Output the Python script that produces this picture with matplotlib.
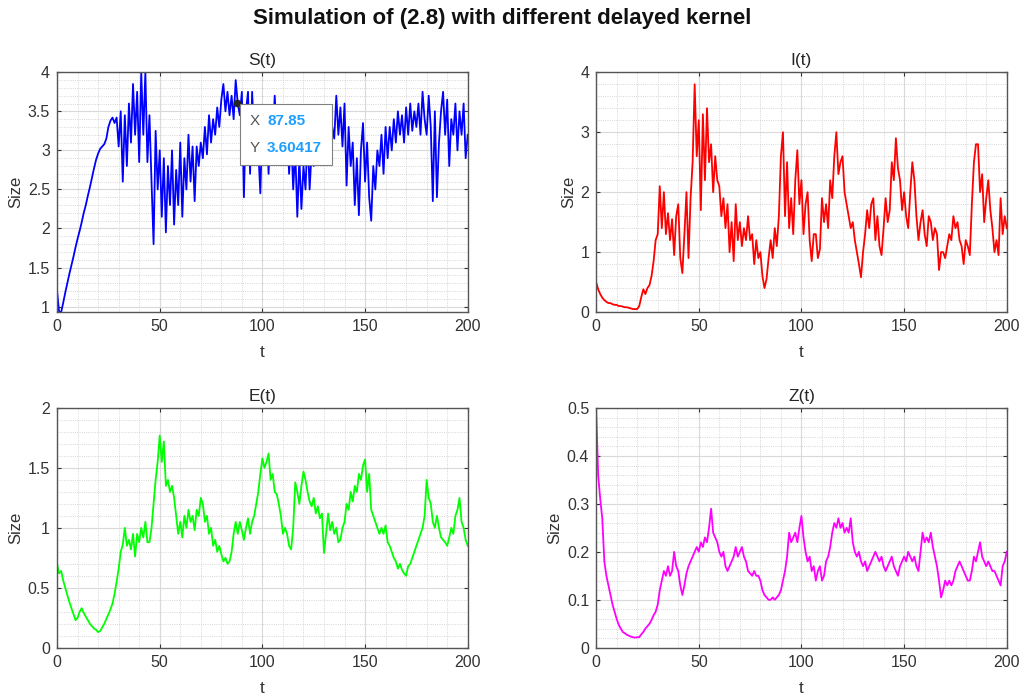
import numpy as np
import matplotlib
matplotlib.use("Agg")
import matplotlib.pyplot as plt
from matplotlib.ticker import MultipleLocator, AutoMinorLocator, FormatStrFormatter
from matplotlib.offsetbox import TextArea, HPacker, VPacker, AnnotationBbox

plt.rcParams['font.family'] = ['Liberation Sans', 'DejaVu Sans']

# time grid (t = 0 .. 200)
t = np.arange(0, 201)

S_vals = [
    1.2, 0.93, 0.93, 1.05, 1.18, 1.3, 1.42, 1.53, 1.64, 1.76,
    1.87, 1.97, 2.08, 2.2, 2.3, 2.42, 2.53, 2.65, 2.77, 2.88,
    2.96, 3.02, 3.05, 3.08, 3.15, 3.3, 3.38, 3.42, 3.35, 3.42,
    3.05, 3.5, 2.6, 3.45, 2.8, 3.6, 3.1, 3.85, 3.2, 3.75,
    2.85, 4.0, 3.2, 4.0, 2.85, 3.45, 2.6, 1.8, 3.25, 2.5,
    3.0, 2.15, 2.9, 1.95, 2.8, 2.3, 3.0, 2.05, 2.75, 2.3,
    3.1, 2.15, 2.9, 2.5, 3.2, 2.6, 3.05, 2.35, 3.05, 2.8,
    3.1, 2.9, 3.3, 2.95, 3.45, 3.1, 3.4, 3.2, 3.55, 3.3,
    3.65, 3.85, 3.5, 3.75, 3.45, 3.7, 3.4, 3.9, 3.6, 3.45,
    3.75, 2.4, 3.5, 3.75, 2.7, 3.75, 3.1, 3.5, 3.0, 2.45,
    3.4, 3.0, 3.55, 2.7, 3.5, 3.1, 3.7, 3.2, 3.5, 3.0,
    3.3, 2.9, 3.4, 2.7, 3.2, 2.5, 3.0, 2.15, 2.9, 2.25,
    2.8, 2.5, 3.2, 2.5, 3.0, 2.8, 3.3, 3.0, 3.25, 2.9,
    3.2, 3.0, 3.35, 3.1, 3.3, 3.15, 3.7, 3.2, 3.55, 3.05,
    3.6, 2.55, 3.3, 2.8, 3.1, 2.3, 2.9, 2.17, 3.0, 3.35,
    2.6, 3.1, 2.4, 2.1, 2.8, 2.5, 3.0, 2.8, 3.2, 2.7,
    3.3, 2.9, 3.3, 3.0, 3.4, 3.1, 3.5, 3.2, 3.45, 3.1,
    3.55, 3.2, 3.6, 3.25, 3.5, 3.3, 3.6, 3.2, 3.75, 3.4,
    3.2, 3.7, 3.3, 2.35, 3.5, 2.4, 3.1, 3.5, 3.75, 3.2,
    3.65, 2.8, 3.4, 3.2, 3.6, 3.0, 3.5, 3.2, 3.6, 2.9,
    3.2,
]

I_vals = [
    0.5, 0.38, 0.3, 0.24, 0.2, 0.17, 0.15, 0.15, 0.13, 0.12,
    0.12, 0.1, 0.1, 0.09, 0.08, 0.08, 0.07, 0.06, 0.05, 0.05,
    0.05, 0.1, 0.25, 0.38, 0.3, 0.4, 0.45, 0.6, 0.85, 1.2,
    1.3, 2.1, 1.4, 2.0, 1.3, 1.65, 1.2, 1.55, 0.95, 1.6,
    1.8, 0.9, 0.65, 1.3, 2.0, 0.9, 1.9, 2.5, 3.8, 2.6,
    3.2, 1.7, 3.3, 2.2, 3.4, 2.5, 2.8, 2.0, 2.6, 2.2,
    2.1, 1.6, 1.9, 1.4, 1.8, 1.0, 1.5, 0.85, 1.8, 1.2,
    1.5, 1.1, 1.4, 1.2, 1.6, 1.2, 1.3, 0.8, 1.2, 0.9,
    1.0, 0.6, 0.4, 0.55, 0.9, 1.2, 0.9, 1.4, 1.1, 1.6,
    2.6, 3.0, 1.6, 2.5, 1.4, 1.9, 1.3, 2.2, 2.7, 1.8,
    2.2, 1.3, 1.8, 2.0, 1.2, 0.85, 1.3, 1.3, 0.9, 1.05,
    1.9, 1.5, 1.8, 1.4, 2.2, 1.9, 2.6, 3.0, 2.3, 2.5,
    2.6, 2.0, 1.8, 1.6, 1.4, 1.5, 1.2, 1.0, 0.8, 0.58,
    1.0, 1.3, 1.7, 1.4, 1.8, 1.9, 1.2, 1.6, 1.1, 0.95,
    1.4, 1.9, 1.5, 1.7, 2.5, 2.2, 2.9, 2.4, 2.2, 1.7,
    2.0, 1.6, 1.4, 2.0, 2.5, 2.2, 1.6, 1.2, 1.5, 1.7,
    1.3, 1.1, 1.6, 1.5, 1.2, 1.4, 1.3, 0.7, 1.0, 1.0,
    0.9, 1.1, 1.3, 1.2, 1.6, 1.4, 1.5, 1.2, 1.1, 0.8,
    1.2, 1.1, 0.95, 1.8, 2.5, 2.8, 2.8, 2.0, 2.3, 1.5,
    1.9, 2.2, 1.7, 1.4, 1.0, 1.2, 0.95, 1.9, 1.3, 1.6,
    1.4,
]

E_vals = [
    0.7, 0.62, 0.64, 0.56, 0.5, 0.44, 0.38, 0.33, 0.28, 0.23,
    0.25, 0.3, 0.33, 0.29, 0.26, 0.23, 0.2, 0.18, 0.16, 0.15,
    0.13, 0.14, 0.17, 0.2, 0.24, 0.28, 0.32, 0.37, 0.45, 0.55,
    0.66, 0.8, 0.86, 1.0, 0.85, 0.9, 0.82, 0.95, 0.76, 0.95,
    0.88, 1.0, 0.92, 1.05, 0.88, 0.88, 1.0, 1.2, 1.4, 1.55,
    1.77, 1.55, 1.72, 1.35, 1.4, 1.3, 1.35, 1.25, 1.1, 0.95,
    1.05, 0.92, 1.1, 1.0, 1.15, 1.05, 1.1, 0.98, 1.15, 1.1,
    1.25, 1.2, 1.05, 1.1, 0.95, 1.0, 0.85, 0.9, 0.8, 0.85,
    0.78, 0.72, 0.75, 0.7, 0.72, 0.8, 0.95, 1.05, 0.95, 1.05,
    0.98, 0.9, 1.0, 1.08, 0.95, 1.05, 1.1, 1.2, 1.3, 1.45,
    1.58, 1.5, 1.55, 1.62, 1.4, 1.45, 1.3, 1.28, 1.2, 1.1,
    0.95, 1.0, 0.95, 0.85, 0.82, 1.0, 1.38, 1.3, 1.2, 1.35,
    1.47, 1.4, 1.3, 1.22, 1.18, 1.25, 1.12, 1.18, 1.08, 1.12,
    0.79, 0.95, 1.12, 0.98, 1.05, 0.95, 1.0, 0.88, 0.9, 1.0,
    1.05, 1.2, 1.15, 1.3, 1.22, 1.35, 1.3, 1.45, 1.4, 1.52,
    1.57, 1.3, 1.45, 1.15, 1.1, 1.05, 1.0, 0.95, 1.0, 0.95,
    1.02, 0.88, 0.85, 0.8, 0.75, 0.72, 0.66, 0.7, 0.65, 0.62,
    0.6, 0.68, 0.7, 0.75, 0.8, 0.85, 0.9, 0.95, 1.0, 1.1,
    1.4, 1.25, 1.2, 1.05, 1.0, 1.1, 1.0, 0.92, 0.9, 0.88,
    0.85, 0.92, 1.0, 0.95, 1.1, 1.15, 1.25, 1.05, 1.0, 0.9,
    0.85,
]

Z_vals = [
    0.5, 0.36, 0.31, 0.27, 0.18, 0.15, 0.13, 0.11, 0.09, 0.075,
    0.06, 0.048, 0.04, 0.033, 0.03, 0.027, 0.025, 0.023, 0.022, 0.021,
    0.022, 0.022, 0.028, 0.033, 0.04, 0.045, 0.05, 0.058, 0.068, 0.075,
    0.09, 0.12, 0.14, 0.16, 0.15, 0.17, 0.15, 0.16, 0.2, 0.17,
    0.16, 0.13, 0.11, 0.13, 0.155, 0.17, 0.18, 0.19, 0.2, 0.21,
    0.2, 0.22, 0.21, 0.23, 0.22, 0.25, 0.29, 0.24, 0.23, 0.22,
    0.2, 0.19, 0.2, 0.17, 0.16, 0.17, 0.18, 0.19, 0.21, 0.19,
    0.2, 0.21, 0.19, 0.18, 0.16, 0.155, 0.15, 0.16, 0.15, 0.15,
    0.14, 0.12, 0.11, 0.105, 0.1, 0.1, 0.105, 0.1, 0.105, 0.11,
    0.12, 0.14, 0.16, 0.19, 0.24, 0.22, 0.23, 0.24, 0.22, 0.25,
    0.275, 0.23, 0.2, 0.18, 0.19, 0.16, 0.17, 0.14, 0.16, 0.17,
    0.14, 0.15, 0.18, 0.19, 0.21, 0.24, 0.26, 0.25, 0.27, 0.25,
    0.26, 0.24, 0.25, 0.24, 0.27, 0.22, 0.2, 0.19, 0.2, 0.18,
    0.17, 0.18, 0.16, 0.17, 0.18, 0.19, 0.2, 0.19, 0.18, 0.19,
    0.17, 0.16, 0.17, 0.18, 0.19, 0.17, 0.16, 0.15, 0.17, 0.18,
    0.19, 0.18, 0.2, 0.19, 0.18, 0.19, 0.17, 0.16, 0.2, 0.24,
    0.22, 0.23, 0.22, 0.24, 0.21, 0.19, 0.17, 0.14, 0.105, 0.12,
    0.14, 0.13, 0.14, 0.13, 0.14, 0.16, 0.17, 0.18, 0.17, 0.16,
    0.15, 0.14, 0.14, 0.16, 0.19, 0.18, 0.2, 0.22, 0.19, 0.18,
    0.17, 0.18, 0.17, 0.16, 0.16, 0.15, 0.14, 0.13, 0.17, 0.18,
    0.2,
]

panels = [
    ("S(t)", S_vals, "#0000ff", (0.93, 4.0), 0.5, [0.056, 0.551, 0.403, 0.345]),
    ("I(t)", I_vals, "#ff0000", (0, 4), 1, [0.585, 0.551, 0.403, 0.345]),
    ("E(t)", E_vals, "#00ff00", (0, 2), 0.5, [0.056, 0.068, 0.403, 0.345]),
    ("Z(t)", Z_vals, "#ff00ff", (0, 0.5), 0.1, [0.585, 0.068, 0.403, 0.345]),
]

fig = plt.figure(figsize=(10.19, 6.95), dpi=100)
fig.patch.set_facecolor('white')
fig.suptitle('Simulation of (2.8) with different delayed kernel',
             fontsize=16, fontweight='bold', x=0.493, y=0.988, color='#111111')

axes = []
for title, vals, color, ylim, ystep, pos in panels:
    ax = fig.add_axes(pos)
    ax.plot(t, vals, color=color, linewidth=1.3)
    ax.set_xlim(0, 200)
    ax.set_ylim(*ylim)
    ax.xaxis.set_major_locator(MultipleLocator(50))
    ax.yaxis.set_major_locator(MultipleLocator(ystep))
    ax.yaxis.set_major_formatter(FormatStrFormatter('%g'))
    ax.xaxis.set_minor_locator(AutoMinorLocator(5))
    ax.yaxis.set_minor_locator(AutoMinorLocator(5))
    ax.grid(which='major', color='#d9d9d9', linewidth=0.8)
    ax.grid(which='minor', color='#c8c8c8', linestyle=':', linewidth=0.6)
    ax.set_axisbelow(True)
    ax.tick_params(which='major', direction='in', length=3, top=True, right=True,
                   labelsize=11.5, colors='#333333', pad=5)
    ax.tick_params(which='minor', length=0)
    for sp in ax.spines.values():
        sp.set_color('#555555')
        sp.set_linewidth(1.0)
    ax.set_title(title, fontsize=12.5, color='#262626', pad=5)
    ax.set_xlabel('t', fontsize=12.5, color='#333333', labelpad=8)
    ax.set_ylabel('Size', fontsize=12, color='#333333', labelpad=3)
    axes.append(ax)

# data tip on S(t)
ax = axes[0]
ax.plot([87.85], [3.60417], 'o', color='#262626', markersize=4.5)
lab_style = dict(color='#555555', fontsize=11)
val_style = dict(color='#1e9fff', fontsize=11, fontweight='bold')
row1 = HPacker(children=[TextArea('X', textprops=lab_style),
                         TextArea('87.85', textprops=val_style)], sep=5, pad=0)
row2 = HPacker(children=[TextArea('Y', textprops=lab_style),
                         TextArea('3.60417', textprops=val_style)], sep=5, pad=0)
box = VPacker(children=[row1, row2], sep=9, pad=0)
ab = AnnotationBbox(box, (87.85, 3.60417), box_alignment=(0, 1),
                    xybox=(9, -8), boxcoords='offset points', frameon=True,
                    pad=0.75, bboxprops=dict(facecolor='white', edgecolor='#808080', linewidth=0.8))
ax.add_artist(ab)

fig.savefig('out.png', dpi=100, facecolor='white')
